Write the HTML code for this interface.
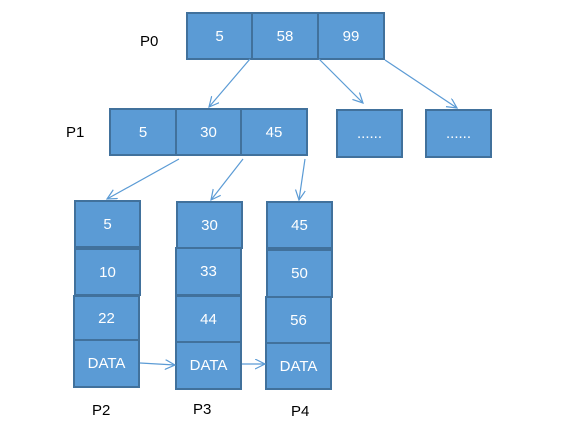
<!DOCTYPE html>
<html><head><meta charset="utf-8"><style>
body{margin:0;width:577px;height:436px;background:#fff;position:relative;overflow:hidden;font-family:"Liberation Sans",sans-serif}
.b{position:absolute;box-sizing:border-box;background:#5b9bd5;border:2.5px solid #41719c;color:#fff;font-size:15px;display:flex;align-items:center;justify-content:center}
.l{position:absolute;font-size:15px;color:#000}
svg{position:absolute;left:0;top:0}
</style></head><body>
<div class="l" style="left:140px;top:33px">P0</div>
<div class="l" style="left:66px;top:124px">P1</div>
<div class="l" style="left:92px;top:402px">P2</div>
<div class="l" style="left:193px;top:401px">P3</div>
<div class="l" style="left:291px;top:403px">P4</div>

<div class="b" style="left:186px;top:12px;width:67px;height:48px">5</div>
<div class="b" style="left:251px;top:12px;width:68px;height:48px">58</div>
<div class="b" style="left:317px;top:12px;width:68px;height:48px">99</div>

<div class="b" style="left:109px;top:108px;width:68px;height:48px">5</div>
<div class="b" style="left:175px;top:108px;width:67px;height:48px">30</div>
<div class="b" style="left:240px;top:108px;width:68px;height:48px">45</div>
<div class="b" style="left:336px;top:109px;width:67px;height:49px">......</div>
<div class="b" style="left:425px;top:109px;width:67px;height:49px">......</div>

<div class="b" style="left:74px;top:200px;width:67px;height:48px">5</div>
<div class="b" style="left:74px;top:248px;width:67px;height:48px">10</div>
<div class="b" style="left:73px;top:295px;width:67px;height:46px">22</div>
<div class="b" style="left:73px;top:339px;width:67px;height:49px">DATA</div>

<div class="b" style="left:176px;top:201px;width:67px;height:48px">30</div>
<div class="b" style="left:175px;top:247px;width:67px;height:49px">33</div>
<div class="b" style="left:175px;top:295px;width:67px;height:48px">44</div>
<div class="b" style="left:175px;top:341px;width:67px;height:49px">DATA</div>

<div class="b" style="left:266px;top:201px;width:67px;height:48px">45</div>
<div class="b" style="left:266px;top:249px;width:67px;height:49px">50</div>
<div class="b" style="left:265px;top:296px;width:67px;height:48px">56</div>
<div class="b" style="left:265px;top:342px;width:67px;height:48px">DATA</div>

<svg width="577" height="436" fill="none" stroke="#5b9bd5" stroke-width="1.2">
<defs><marker id="a" markerWidth="12" markerHeight="12" refX="10" refY="5" orient="auto" markerUnits="userSpaceOnUse"><path d="M0,0 L10,5 L0,10" stroke="#5b9bd5" fill="none" stroke-width="1.2"/></marker></defs>
<line x1="250" y1="59" x2="209" y2="107" marker-end="url(#a)"/>
<line x1="319" y1="59" x2="363" y2="103" marker-end="url(#a)"/>
<line x1="385" y1="60" x2="457" y2="108" marker-end="url(#a)"/>
<line x1="179" y1="159" x2="107" y2="199" marker-end="url(#a)"/>
<line x1="243" y1="159" x2="211" y2="200" marker-end="url(#a)"/>
<line x1="305" y1="159" x2="299" y2="200" marker-end="url(#a)"/>
<line x1="140" y1="363" x2="175" y2="365" marker-end="url(#a)"/>
<line x1="242" y1="364" x2="265" y2="364" marker-end="url(#a)"/>
</svg>
</body></html>
